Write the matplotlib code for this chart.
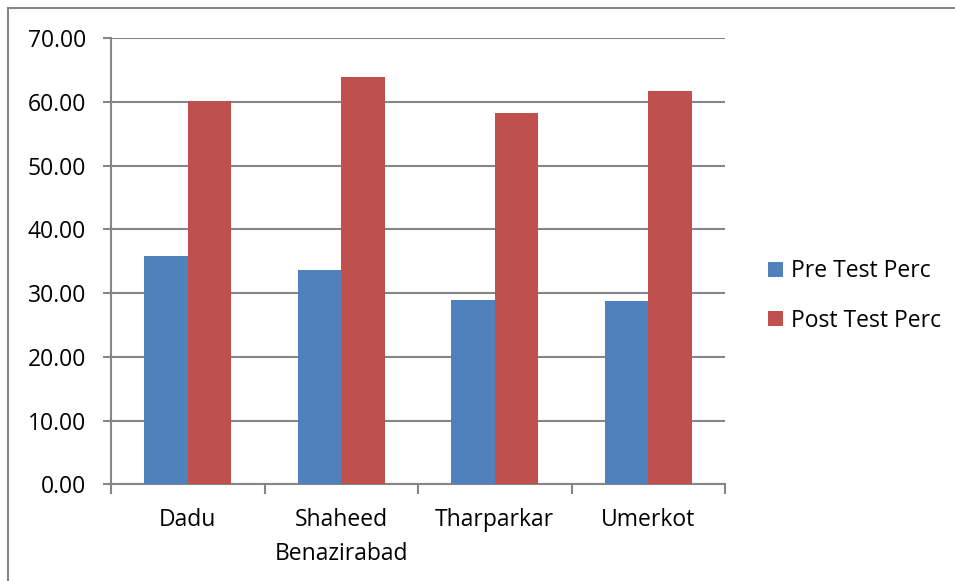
import numpy as np
import matplotlib.pyplot as plt
from matplotlib.lines import Line2D
from matplotlib.ticker import FormatStrFormatter

districts = ['Dadu', 'Shaheed\nBenazirabad', 'Tharparkar', 'Umerkot']
pre_test = [35.85, 33.61, 28.90, 28.80]
post_test = [60.07, 63.83, 58.19, 61.68]
series_names = ['Pre Test Perc', 'Post Test Perc']

plt.rcParams['font.family'] = ['Open Sans', 'DejaVu Sans']
plt.rcParams['font.size'] = 16.5

grey = '#868686'
blue = '#4F81BD'
red = '#C0504D'

fig = plt.figure(figsize=(9.55, 5.81), dpi=100)
ax = fig.add_axes([111 / 955, 1 - 484.3 / 581, 614 / 955, 446.3 / 581])

x = np.arange(len(districts))
w = 0.285
ax.bar(x - w / 2, pre_test, w, color=blue, label=series_names[0], zorder=3)
ax.bar(x + w / 2, post_test, w, color=red, label=series_names[1], zorder=3)

ax.set_xlim(-0.5, len(districts) - 0.5)
ax.set_ylim(0, 70)
ax.set_yticks(np.arange(0, 71, 10))
ax.yaxis.set_major_formatter(FormatStrFormatter('%.2f'))
ax.yaxis.grid(True, color=grey, linewidth=1.5, zorder=0)

ax.set_xticks(x)
ax.set_xticklabels(districts, linespacing=1.55)
ax.set_xticks(np.arange(-0.5, len(districts)), minor=True)
ax.tick_params(axis='x', which='major', length=0, pad=17)
ax.tick_params(axis='x', which='minor', length=7, width=1.5, color=grey, direction='out')
ax.tick_params(axis='y', length=6, width=1.5, color=grey, direction='out', pad=12)

for s in ['top', 'right']:
    ax.spines[s].set_visible(False)
for s in ['left', 'bottom']:
    ax.spines[s].set_color(grey)
    ax.spines[s].set_linewidth(1.5)

fig.legend(loc='center left', bbox_to_anchor=(768 / 955, 1 - 296 / 581),
           frameon=False, handlelength=0.65, handleheight=0.65,
           handletextpad=0.35, labelspacing=1.1, borderpad=0, borderaxespad=0)

# outer chart frame
fig.add_artist(Line2D([8 / 955, 8 / 955], [0, 1 - 8 / 581], color=grey, linewidth=1.5,
                      transform=fig.transFigure))
fig.add_artist(Line2D([8 / 955, 1], [1 - 8 / 581, 1 - 8 / 581], color=grey, linewidth=1.5,
                      transform=fig.transFigure))

fig.savefig('out.png', dpi=100, facecolor='white')
